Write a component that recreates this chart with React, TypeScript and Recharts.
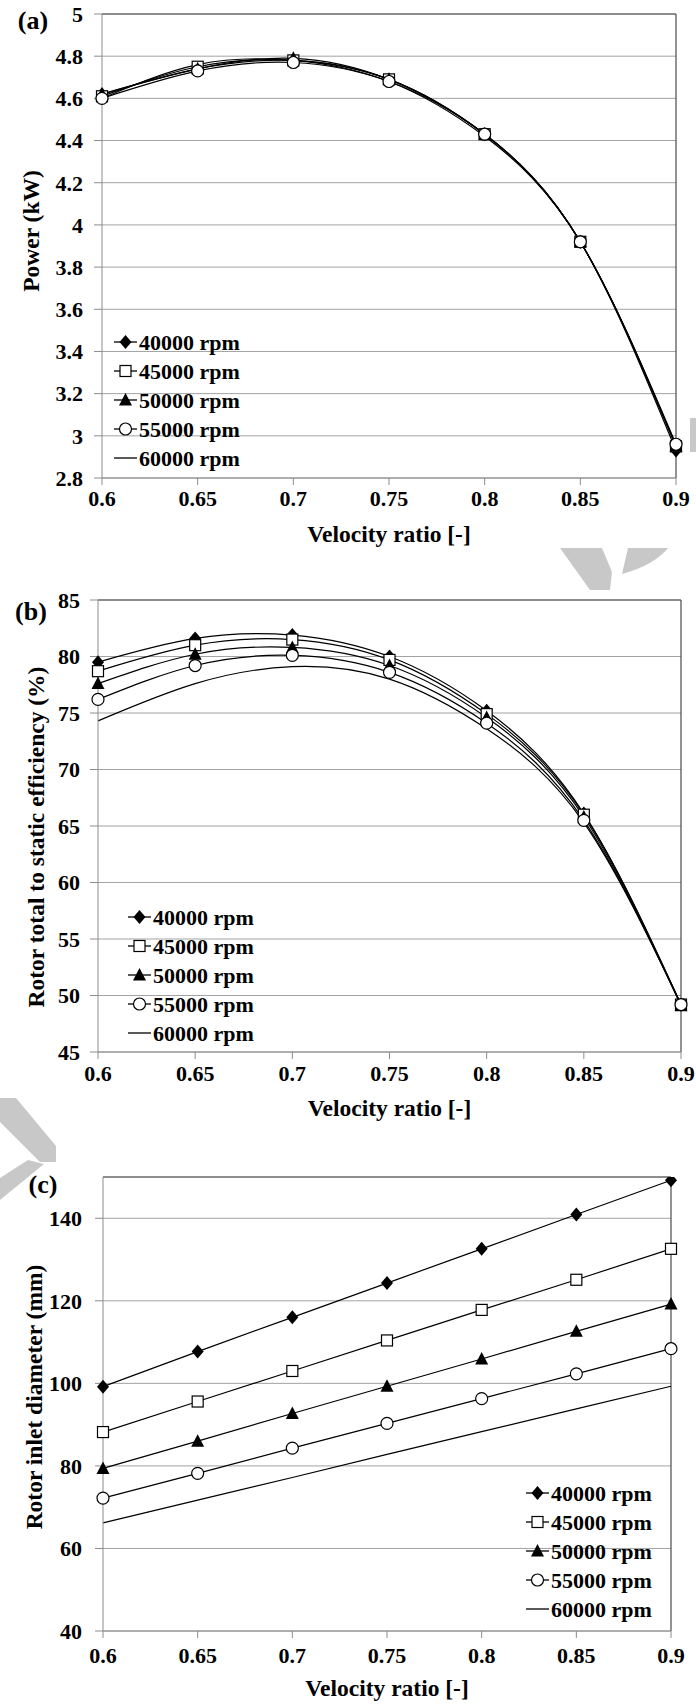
import React from 'react';
import { LineChart, Line, XAxis, YAxis, CartesianGrid, ReferenceLine } from 'recharts';

// Shared x values (turbine velocity ratio) and legend names
const velocityRatio = [0.6, 0.65, 0.7, 0.75, 0.8, 0.85, 0.9];
const velocityTicks = [0.6, 0.65, 0.7, 0.75, 0.8, 0.85, 0.9];
const speedNames = ['40000 rpm', '45000 rpm', '50000 rpm', '55000 rpm', '60000 rpm'];

// (a) Power (kW)
const power40000 = [4.62, 4.74, 4.78, 4.69, 4.43, 3.92, 2.93];
const power45000 = [4.61, 4.75, 4.78, 4.69, 4.43, 3.92, 2.95];
const power50000 = [4.62, 4.74, 4.79, 4.69, 4.43, 3.92, 2.95];
const power55000 = [4.6, 4.73, 4.77, 4.68, 4.43, 3.92, 2.96];
const power60000 = [4.6, 4.76, 4.78, 4.68, 4.42, 3.92, 2.95];
const powerTicks = [2.8, 3, 3.2, 3.4, 3.6, 3.8, 4, 4.2, 4.4, 4.6, 4.8, 5];

// (b) Rotor total to static efficiency (%)
const eff40000 = [79.5, 81.6, 81.9, 80.0, 75.2, 66.1, 49.2];
const eff45000 = [78.7, 81.0, 81.5, 79.7, 74.9, 66.0, 49.2];
const eff50000 = [77.6, 80.2, 80.8, 79.2, 74.6, 65.8, 49.1];
const eff55000 = [76.2, 79.2, 80.1, 78.6, 74.1, 65.5, 49.2];
const eff60000 = [74.3, 77.6, 79.1, 78.0, 73.6, 65.3, 49.2];
const effTicks = [45, 50, 55, 60, 65, 70, 75, 80, 85];

// (c) Rotor inlet diameter (mm)
const dia40000 = [99.2, 107.7, 116.0, 124.3, 132.6, 140.9, 149.2];
const dia45000 = [88.2, 95.6, 103.0, 110.4, 117.8, 125.1, 132.6];
const dia50000 = [79.4, 86.0, 92.7, 99.3, 105.9, 112.6, 119.2];
const dia55000 = [72.2, 78.2, 84.3, 90.3, 96.3, 102.3, 108.4];
const dia60000 = [66.2, 71.7, 77.2, 82.8, 88.3, 93.8, 99.3];
const diaTicks = [40, 60, 80, 100, 120, 140];

type Kind = 'diamond' | 'square' | 'triangle' | 'circle' | 'none';
const markerKinds: Kind[] = ['diamond', 'square', 'triangle', 'circle', 'none'];

const FONT = "'Liberation Serif', 'Times New Roman', Times, serif";
const tickStyle = { fontFamily: FONT, fontWeight: 700, fontSize: 22, fill: '#000' };
const titleStyle: React.CSSProperties = { fontFamily: FONT, fontWeight: 700, fontSize: 23.5, fill: '#000' };
const GRID = '#a3a3a3';
const AXIS = '#8c8c8c';
const BORDER = '#4a4a4a';
const Y_AXIS_W = 70;
const X_AXIS_H = 40;

function Marker({ kind, cx, cy }: { kind: Kind; cx: number; cy: number }) {
  const h = 6;
  if (kind === 'diamond')
    return <polygon points={`${cx},${cy - h - 1} ${cx + h},${cy} ${cx},${cy + h + 1} ${cx - h},${cy}`} fill="#000" />;
  if (kind === 'square')
    return <rect x={cx - h + 0.5} y={cy - h + 0.5} width={2 * h - 1} height={2 * h - 1} fill="#fff" stroke="#000" strokeWidth={1.2} />;
  if (kind === 'triangle')
    return <polygon points={`${cx},${cy - h - 1} ${cx + h + 0.5},${cy + h - 0.5} ${cx - h - 0.5},${cy + h - 0.5}`} fill="#000" />;
  if (kind === 'circle') return <circle cx={cx} cy={cy} r={h} fill="#fff" stroke="#000" strokeWidth={1.2} />;
  return <g />;
}

function SideTitle({ text, x, y }: { text: string; x: number; y: number }) {
  return (
    <text x={x} y={y} transform={`rotate(-90 ${x} ${y})`} textAnchor="middle" dominantBaseline="central" style={titleStyle}>
      {text}
    </text>
  );
}

// Series key: short line with the series marker, then the name
function SeriesKey({ x, y }: { x: number; y: number }) {
  const rowGap = 29;
  return (
    <g transform={`translate(${x} ${y})`}>
      {speedNames.map((name, i) => {
        const cy = i * rowGap;
        return (
          <g key={name}>
            <line x1={0} x2={23} y1={cy} y2={cy} stroke="#000" strokeWidth={1.3} />
            <Marker kind={markerKinds[i]} cx={11.5} cy={cy} />
            <text x={25} y={cy + 7.5} style={tickStyle}>
              {name}
            </text>
          </g>
        );
      })}
    </g>
  );
}

type PanelCfg = {
  tag: string;
  tagPos: [number, number];
  yTitle: string;
  yTitlePos: [number, number];
  series: number[][];
  yTicks: number[];
  yDomain: [number, number];
  curve: 'natural' | 'linear';
  top: number;
  height: number;
  plot: { left: number; right: number; top: number; bottom: number };
  yTickMargin: number;
  xTickMargin: number;
  xTitleOffset: number;
  keyPos: [number, number];
};

const fmt = (v: number) => String(Number(v.toFixed(2)));

function Panel({ cfg }: { cfg: PanelCfg }) {
  const data = velocityRatio.map((x, i) => {
    const row: Record<string, number> = { x };
    cfg.series.forEach((s, k) => {
      row[`s${k}`] = s[i];
    });
    return row;
  });
  const { plot } = cfg;
  const marginTop = plot.top - cfg.top;
  const margin = {
    top: marginTop,
    right: 696 - plot.right,
    left: plot.left - Y_AXIS_W,
    bottom: cfg.height - marginTop - (plot.bottom - plot.top) - X_AXIS_H,
  };
  return (
    <div style={{ position: 'absolute', left: 0, top: cfg.top }}>
      <LineChart width={696} height={cfg.height} data={data} margin={margin}>
        <CartesianGrid vertical={false} stroke={GRID} strokeWidth={1} />
        <XAxis
          dataKey="x"
          type="number"
          domain={[0.6, 0.9]}
          ticks={velocityTicks}
          interval={0}
          tickFormatter={fmt}
          tick={tickStyle}
          tickSize={7}
          tickMargin={cfg.xTickMargin}
          height={X_AXIS_H}
          axisLine={{ stroke: AXIS }}
          tickLine={{ stroke: AXIS }}
          label={{ value: 'Velocity ratio [-]', position: 'bottom', offset: cfg.xTitleOffset, style: titleStyle }}
        />
        <YAxis
          type="number"
          domain={cfg.yDomain}
          ticks={cfg.yTicks}
          interval={0}
          tickFormatter={fmt}
          tick={tickStyle}
          tickSize={8}
          tickMargin={cfg.yTickMargin}
          width={Y_AXIS_W}
          axisLine={{ stroke: AXIS }}
          tickLine={{ stroke: AXIS }}
          allowDataOverflow
        />
        <ReferenceLine y={cfg.yDomain[1]} stroke={BORDER} strokeWidth={1.2} />
        <ReferenceLine x={0.9} stroke={BORDER} strokeWidth={1.2} />
        {cfg.series.map((_, k) => {
          const kind = markerKinds[k];
          return (
            <Line
              key={k}
              dataKey={`s${k}`}
              name={speedNames[k]}
              type={cfg.curve}
              stroke="#000"
              strokeWidth={1.2}
              isAnimationActive={false}
              activeDot={false}
              dot={
                kind === 'none'
                  ? false
                  : (p: any) => <Marker key={`m-${k}-${p.index}`} kind={kind} cx={p.cx} cy={p.cy} />
              }
            />
          );
        })}
        <SeriesKey x={cfg.keyPos[0]} y={cfg.keyPos[1] - cfg.top} />
        <SideTitle text={cfg.yTitle} x={cfg.yTitlePos[0]} y={cfg.yTitlePos[1] - cfg.top} />
        <text
          x={cfg.tagPos[0]}
          y={cfg.tagPos[1] - cfg.top}
          textAnchor="middle"
          dominantBaseline="central"
          style={{ fontFamily: FONT, fontWeight: 700, fontSize: 26, fill: '#000' }}
        >
          {cfg.tag}
        </text>
      </LineChart>
    </div>
  );
}

const panels: PanelCfg[] = [
  {
    tag: '(a)',
    tagPos: [33, 20],
    yTitle: 'Power (kW)',
    yTitlePos: [31, 231],
    series: [power40000, power45000, power50000, power55000, power60000],
    yTicks: powerTicks,
    yDomain: [2.8, 5],
    curve: 'natural',
    top: 0,
    height: 560,
    plot: { left: 102, right: 676, top: 14, bottom: 478 },
    yTickMargin: 11,
    xTickMargin: 5,
    xTitleOffset: 7,
    keyPos: [114, 342],
  },
  {
    tag: '(b)',
    tagPos: [31, 611],
    yTitle: 'Rotor total to static efficiency (%)',
    yTitlePos: [36, 837],
    series: [eff40000, eff45000, eff50000, eff55000, eff60000],
    yTicks: effTicks,
    yDomain: [45, 85],
    curve: 'natural',
    top: 586,
    height: 540,
    plot: { left: 98, right: 681, top: 600, bottom: 1052 },
    yTickMargin: 10,
    xTickMargin: 6,
    xTitleOffset: 7,
    keyPos: [128, 917],
  },
  {
    tag: '(c)',
    tagPos: [43, 1184],
    yTitle: 'Rotor inlet diameter (mm)',
    yTitlePos: [34, 1397],
    series: [dia40000, dia45000, dia50000, dia55000, dia60000],
    yTicks: diaTicks,
    yDomain: [40, 150],
    curve: 'linear',
    top: 1163,
    height: 541,
    plot: { left: 103, right: 671, top: 1177, bottom: 1631 },
    yTickMargin: 13,
    xTickMargin: 9,
    xTitleOffset: 8,
    keyPos: [526, 1493],
  },
];

// Light grey stamp fragments lying behind the panels
function Stamp() {
  return (
    <svg width={696} height={1704} style={{ position: 'absolute', left: 0, top: 0 }}>
      <g fill="#c8c8c8">
        <polygon points="560,548 602,548 612,572 610,590 590,590" />
        <path d="M628,548 L668,548 C660,558 645,568 622,574 Z" />
        <polygon points="690,418 696,418 696,452 690,452" />
        <polygon points="0,1098 16,1098 56,1146 56,1162 40,1162 0,1122" />
        <polygon points="0,1178 28,1160 44,1164 0,1200" />
      </g>
    </svg>
  );
}

export default function App() {
  return (
    <div style={{ position: 'absolute', left: 0, top: 0, width: 696, height: 1704, background: '#fff' }}>
      <Stamp />
      {panels.map((p) => (
        <Panel key={p.tag} cfg={p} />
      ))}
    </div>
  );
}
